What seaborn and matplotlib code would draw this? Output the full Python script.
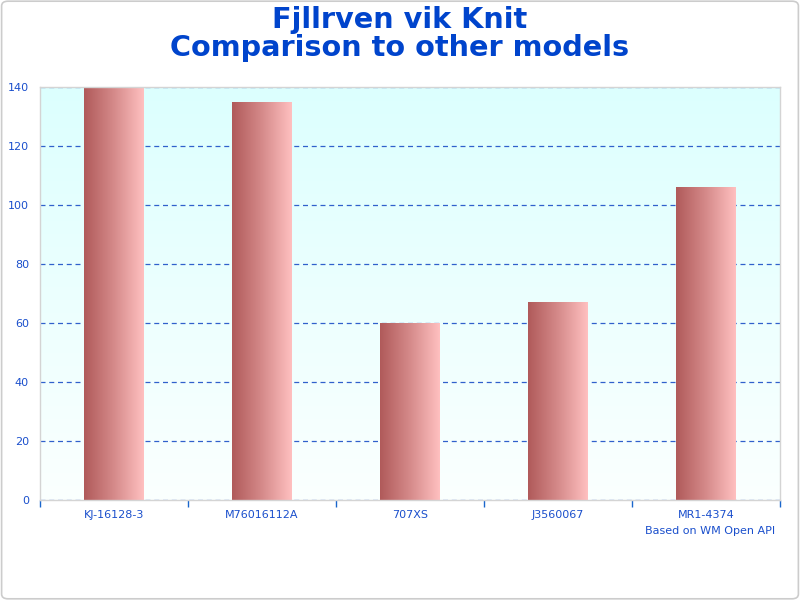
import numpy as np
import pandas as pd
import matplotlib
matplotlib.use("Agg")
import matplotlib.pyplot as plt
import seaborn as sns
from matplotlib.colors import LinearSegmentedColormap
from matplotlib.patches import FancyBboxPatch

models = ["KJ-16128-3", "M76016112A", "707XS", "J3560067", "MR1-4374"]
values = [140, 135, 60, 67, 106]
y_ticks = [0, 20, 40, 60, 80, 100, 120, 140]
title = "Fjllrven vik Knit\nComparison to other models"
credit = "Based on WM Open API"

sns.set_theme(style="white")
plt.rcParams['font.family'] = ['DejaVu Sans']

blue = "#1a4fcc"
df = pd.DataFrame({"model": models, "value": values})

fig = plt.figure(figsize=(8, 6), dpi=100)
ax = fig.add_axes([0.05, 1 - 500/600, 0.925, 413/600])

sns.barplot(data=df, x="model", y="value", ax=ax, width=0.405, color="#d08080",
            edgecolor="none", zorder=3)

ax.set_ylim(0, 140)
ax.set_xlim(-0.5, len(models) - 0.5)

# background gradient
bg = LinearSegmentedColormap.from_list("bg", ["#fbfffe", "#dcffff"])
grad_v = np.linspace(0, 1, 256).reshape(-1, 1)
ax.imshow(grad_v, cmap=bg, aspect="auto", origin="lower",
          extent=[-0.5, len(models) - 0.5, 0, 140], zorder=0)

# bar gradients
barcm = LinearSegmentedColormap.from_list("bar", ["#b05a5a", "#d58a8a", "#ffc0c0"])
grad_h = np.linspace(0, 1, 256).reshape(1, -1)
for p in list(ax.patches):
    x0, y0 = p.get_x(), p.get_y()
    w, h = p.get_width(), p.get_height()
    im = ax.imshow(grad_h, cmap=barcm, aspect="auto",
                   extent=[x0, x0 + w, y0, y0 + h], zorder=3)
    im.set_clip_path(p)
    p.set_alpha(0)
ax.set_xlim(-0.5, len(models) - 0.5)
ax.set_ylim(0, 140)

# grid
ax.set_yticks(y_ticks)
ax.yaxis.grid(True, linestyle=(0, (4, 3)), color="#3060cc", linewidth=0.9, zorder=1)
ax.xaxis.grid(False)
for gl in ax.get_ygridlines():
    gl.set_zorder(1)

ax.set_xticks(range(len(models)))
ax.set_xticklabels(models)
ax.set_xticks(np.arange(-0.5, len(models), 1.0), minor=True)
ax.tick_params(axis="x", which="major", bottom=False, length=0, pad=7, labelsize=8, labelcolor=blue)
ax.tick_params(axis="x", which="minor", bottom=True, length=5, width=1, color="#1a66cc", direction="out")
ax.tick_params(axis="y", left=False, length=0, pad=8, labelsize=8, labelcolor=blue)
ax.set_xlabel("")
ax.set_ylabel("")

for s in ax.spines.values():
    s.set_color("#d4d4d4")
    s.set_linewidth(1)
    s.set_visible(True)
    s.set_zorder(5)

fig.text(0.5, 1 - 34/600, title, ha="center", va="center", fontsize=20.7,
         fontweight="bold", color="#0044cc", linespacing=0.97)
fig.text(775/800, 1 - 531/600, credit, ha="right", va="center", fontsize=8, color=blue)

border = FancyBboxPatch((0.002, 0.002), 0.996, 0.996, boxstyle="round,pad=0,rounding_size=0.008",
                        transform=fig.transFigure, fill=False, edgecolor="#cccccc", linewidth=1.2)
fig.patches.append(border)

fig.savefig("out.png", dpi=100)
